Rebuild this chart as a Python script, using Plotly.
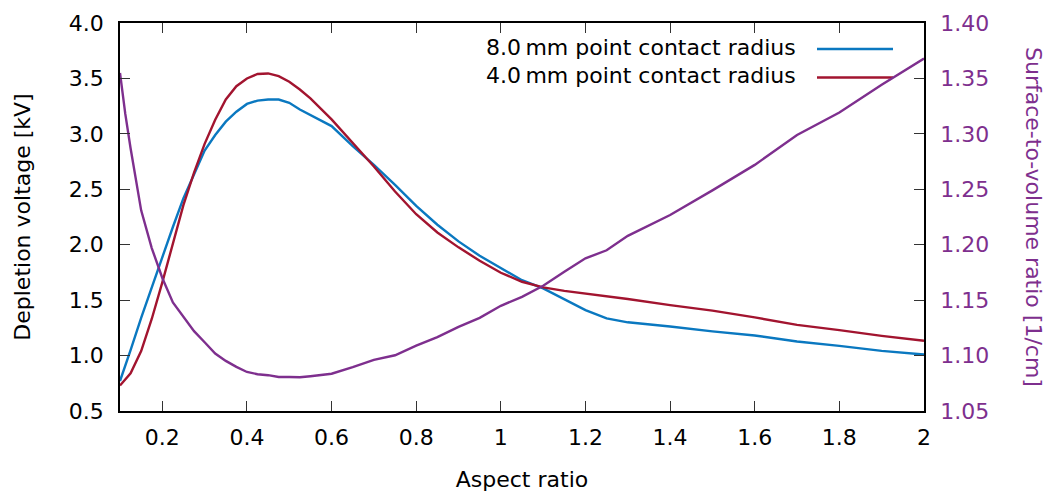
import plotly.graph_objects as go

# Aspect ratio samples shared by all three curves
aspect = [0.10, 0.1125, 0.125, 0.15, 0.175, 0.20, 0.225, 0.25, 0.275, 0.30, 0.325,
          0.35, 0.375, 0.40, 0.425, 0.45, 0.475, 0.50, 0.525, 0.55, 0.60,
          0.65, 0.70, 0.75, 0.80, 0.85, 0.90, 0.95, 1.00, 1.05, 1.10,
          1.15, 1.20, 1.25, 1.30, 1.40, 1.50, 1.60, 1.70, 1.80, 1.90, 2.00]

# Depletion voltage [kV], 8.0 mm point contact radius
v_8mm = [0.77, 0.92, 1.05, 1.34, 1.62, 1.90, 2.16, 2.42, 2.63, 2.85, 2.99,
         3.11, 3.20, 3.27, 3.30, 3.31, 3.31, 3.28, 3.22, 3.17, 3.07,
         2.89, 2.72, 2.54, 2.35, 2.18, 2.03, 1.90, 1.79, 1.68, 1.606,
         1.506, 1.41, 1.335, 1.30, 1.262, 1.218, 1.181, 1.127, 1.087, 1.042, 1.01]

# Depletion voltage [kV], 4.0 mm point contact radius
v_4mm = [0.73, 0.79, 0.84, 1.04, 1.33, 1.66, 2.02, 2.36, 2.65, 2.91, 3.127,
         3.31, 3.43, 3.50, 3.54, 3.545, 3.52, 3.47, 3.40, 3.32, 3.13,
         2.916, 2.705, 2.48, 2.275, 2.11, 1.976, 1.856, 1.747, 1.666, 1.615,
         1.584, 1.561, 1.535, 1.51, 1.455, 1.405, 1.344, 1.277, 1.23, 1.178, 1.133]

# Surface-to-volume ratio [1/cm]
sv_ratio = [1.355, 1.318, 1.287, 1.231, 1.197, 1.170, 1.148, 1.135, 1.122, 1.112, 1.1019,
            1.0952, 1.0898, 1.0852, 1.0832, 1.0823, 1.0807, 1.0807, 1.0805, 1.0814, 1.0836,
            1.0895, 1.0961, 1.1003, 1.1089, 1.1166, 1.1259, 1.134, 1.1449, 1.153, 1.163,
            1.1756, 1.1877, 1.195, 1.208, 1.2268, 1.249, 1.272, 1.299, 1.3193, 1.3443, 1.368]

x_tickvals = [0.2, 0.4, 0.6, 0.8, 1.0, 1.2, 1.4, 1.6, 1.8, 2.0]
x_ticktext = ["0.2", "0.4", "0.6", "0.8", "1", "1.2", "1.4", "1.6", "1.8", "2"]
y_tickvals = [0.5, 1.0, 1.5, 2.0, 2.5, 3.0, 3.5, 4.0]
y2_tickvals = [1.05, 1.10, 1.15, 1.20, 1.25, 1.30, 1.35, 1.40]

labels = ["8.0\u2009mm point contact radius", "4.0\u2009mm point contact radius"]

BLUE = "#0a78c0"
RED = "#a2142f"
PURPLE = "#7e2f8e"
FONT = "DejaVu Sans"
FS = 22

fig = go.Figure()
fig.add_trace(go.Scatter(x=aspect, y=v_8mm, mode="lines", name=labels[0],
                         line=dict(color=BLUE, width=2.4)))
fig.add_trace(go.Scatter(x=aspect, y=v_4mm, mode="lines", name=labels[1],
                         line=dict(color=RED, width=2.4)))
fig.add_trace(go.Scatter(x=aspect, y=sv_ratio, mode="lines", yaxis="y2",
                         line=dict(color=PURPLE, width=2.4)))

# Key: right-aligned labels with the line sample to their right
plot_w, plot_h = 804.0, 388.0
for i, (lab, col) in enumerate(zip(labels, [BLUE, RED])):
    ypx = 47.5 + 28.5 * i
    yp = (411 - ypx) / plot_h
    fig.add_annotation(x=(798 - 120) / plot_w, y=yp, xref="paper", yref="paper",
                       text=lab, showarrow=False, xanchor="right", yanchor="middle",
                       font=dict(family=FONT, size=FS, color="black"))
    fig.add_shape(type="line", xref="paper", yref="paper", layer="below",
                  x0=(817 - 120) / plot_w, x1=(893 - 120) / plot_w,
                  y0=yp - 1.5 / plot_h, y1=yp - 1.5 / plot_h,
                  line=dict(color=col, width=2.4))

# Right axis title, reading top to bottom
fig.add_annotation(x=1.0, y=0.5, xref="paper", yref="paper", xshift=110,
                   text="Surface-to-volume ratio [1/cm]", showarrow=False,
                   textangle=90, xanchor="center", yanchor="middle",
                   font=dict(family=FONT, size=FS, color=PURPLE))

axis_common = dict(showgrid=False, zeroline=False, showline=True, linecolor="black",
                   linewidth=1.6, ticks="inside", ticklen=10, tickwidth=1.4,
                   tickcolor="#333333", automargin=False)

fig.update_layout(
    width=1048, height=496,
    margin=dict(l=120, r=124, t=23, b=85),
    paper_bgcolor="white", plot_bgcolor="white",
    showlegend=False,
    font=dict(family=FONT, size=FS, color="black"),
    xaxis=dict(range=[0.1, 2.0], tickvals=x_tickvals, ticktext=x_ticktext,
               mirror="ticks", ticklabelstandoff=6,
               title=dict(text="Aspect ratio", standoff=22,
                          font=dict(family=FONT, size=FS)),
               **axis_common),
    yaxis=dict(range=[0.5, 4.0], tickvals=y_tickvals, tickformat=".1f",
               mirror=False, ticklabelstandoff=10,
               title=dict(text="Depletion voltage [kV]", standoff=32,
                          font=dict(family=FONT, size=FS)),
               **axis_common),
    yaxis2=dict(range=[1.05, 1.40], tickvals=y2_tickvals, tickformat=".2f",
                overlaying="y", side="right", ticklabelstandoff=10,
                tickfont=dict(color=PURPLE, family=FONT, size=FS),
                **axis_common),
)

fig.write_html("out.html")
